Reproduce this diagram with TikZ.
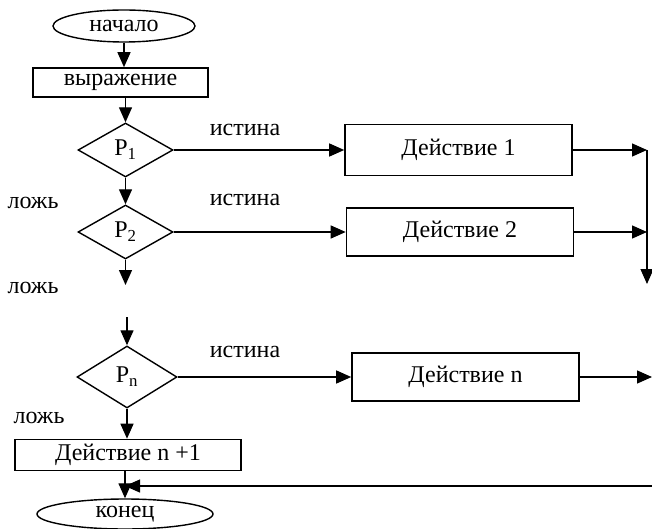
\documentclass[tikz,border=0pt]{standalone}
\usepackage{fontspec}
\setmainfont{Liberation Serif}
\usetikzlibrary{shapes.geometric,arrows.meta}
\tikzset{
  term/.style={draw, ellipse, line width=1.4pt, minimum width=142pt, minimum height=32pt, inner sep=0pt},
  block/.style={draw, rectangle, line width=1.6pt, minimum width=227pt, minimum height=50pt, inner sep=0pt},
  cond/.style={draw, diamond, line width=1.4pt, minimum width=95pt, minimum height=54pt, inner sep=0pt},
  arr/.style={-{Triangle[length=15pt,width=13pt]}, line width=1.3pt},
  lbl/.style={inner sep=0pt}
}

\begin{document}
\begin{tikzpicture}[x=1pt,y=-1pt,font=\fontsize{24}{28}\selectfont]
				\useasboundingbox (0,0) rectangle (652,529);
				
				\node[term] (start) at (124,26) {начало};
				\node[block, minimum width=175pt, minimum height=29pt] (expr) at (120.5,82.5) {выражение};
				
				\node[cond] (p1) at (125.5,150) {P\textsubscript{1}};
				\node[cond] (p2) at (125.5,232) {P\textsubscript{2}};
				\node[cond, minimum width=100pt, minimum height=62pt] (pn) at (127,377) {P\textsubscript{n}};
				
				\node[block, minimum height=51pt] (act1) at (458.5,150) {Действие 1};
				\node[block, minimum height=48pt] (act2) at (460,232) {Действие 2};
				\node[block, minimum height=48pt] (actn) at (465.5,377) {Действие n};
				\node[block, minimum width=226pt, minimum height=31pt] (last) at (128,455) {Действие n +1};
				
				\node[term, minimum width=176pt, minimum height=30pt] (fin) at (125,514) {конец};
				
				\node[lbl] (t1) at (245,130) {истина};
				\node[lbl] (t2) at (245,200) {истина};
				\node[lbl] (tn) at (245,352) {истина};
				\node[lbl] (f1) at (33,203) {ложь};
				\node[lbl] (f2) at (33,288) {ложь};
				\node[lbl] (fn) at (39,418) {ложь};
				
				\coordinate (j1) at (647,150);
				\coordinate (j2) at (647,232);
				\coordinate (jd) at (647,284);
				\coordinate (jn) at (652,377);
				\coordinate (d2) at (125.5,285);
				\coordinate (u3) at (127,317);
				\coordinate (rin) at (652,486);
				
				% main column
				\draw[arr] (start) -- (start |- expr.north);
				\draw[arr] (expr.south -| p1.north) -- (p1.north);
				\draw[arr] (p1.south) -- (p2.north);
				\draw[arr] (p2.south) -- (d2);
				\draw[arr] (u3) -- (pn.north);
				\draw[arr] (pn.south) -- (pn.south |- last.north);
				\draw[arr] (last.south -| fin.north) -- (fin.north);
				
				% true branches
				\draw[arr] (p1.east) -- (act1.west);
				\draw[arr] (p2.east) -- (act2.west);
				\draw[arr] (pn.east) -- (actn.west);
				\draw[arr] (act1.east) -- (j1);
				\draw[arr] (act2.east) -- (j2);
				\draw[arr] (actn.east) -- (jn);
				\draw[arr] (j1) -- (jd);
				
				% return
				\draw[arr] (rin) -- (rin -| fin.north);
			\end{tikzpicture}
\end{document}
